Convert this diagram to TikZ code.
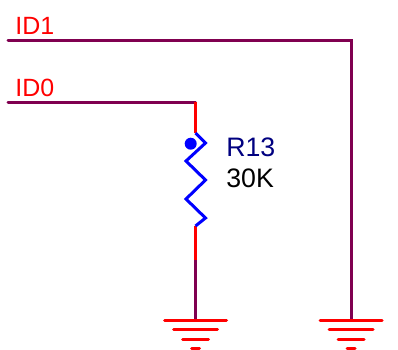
\documentclass[tikz,border=0pt]{standalone}
\usepackage{fontspec}
\setmainfont{Liberation Sans}
\usepackage{color}
\definecolor{wirepurple}{RGB}{128,0,80}
\definecolor{pinred}{RGB}{255,0,0}
\definecolor{bodyblue}{RGB}{0,0,255}
\definecolor{refnavy}{RGB}{0,0,128}
\newcommand{\ground}{\draw[pinwire] (-31,0) -- (31,0);
					\draw[pinwire] (-22,9) -- (22,9);
					\draw[pinwire] (-13,19) -- (13,19);
					\draw[pinwire] (-4,28) -- (4,28);}
\tikzset{
	netwire/.style = {draw = wirepurple, line width = 0.06cm, line cap = round, line join = miter},
	pinwire/.style = {draw = pinred, line width = 0.06cm, line cap = round},
	labeltext/.style = {anchor = base west, inner sep = 0pt, font = \fontsize{14.2pt}{16pt}\selectfont},
	parttext/.style = {labeltext, font = \fontsize{15.2pt}{17pt}\selectfont}
}

\begin{document}
\begin{tikzpicture}[x = 0.02cm, y = -0.02cm]

					\useasboundingbox (0,0) rectangle (398,349);

					\coordinate (id1start) at (8,40);
					\coordinate (id1corner) at (351,40);
					\coordinate (gndright) at (351,320);
					\coordinate (id0start) at (8,102);
					\coordinate (id0corner) at (195.5,102);
					\coordinate (r13top) at (195.5,133);
					\coordinate (r13bottom) at (195.5,226);
					\coordinate (pinend) at (195.5,260);
					\coordinate (gndleft) at (195.5,320);

					\draw[netwire] (id1start) -- (id1corner) -- (gndright);
					\draw[netwire] (id0start) -- (id0corner);
					\draw[netwire] (pinend) -- (gndleft);

					\draw[pinwire, line cap = butt] (id0corner) -- (r13top);
					\draw[pinwire, line cap = butt] (r13bottom) -- (pinend);

					\draw[draw = bodyblue, line width = 0.06cm] (r13top) -- ++(10,10) -- ++(-19.5,18) -- ++(19.5,19)
						-- ++(-19.5,19) -- ++(19.5,19) -- (r13bottom);
					\fill[bodyblue] (190.7,143.7) circle (6);

					\begin{scope}[shift = {(gndleft)}]
						\ground
					\end{scope}

					\begin{scope}[shift = {(gndright)}]
						\ground
					\end{scope}

					\node[labeltext, text = pinred] (id1label) at (15,34) {ID1};
					\node[labeltext, text = pinred] (id0label) at (15,96) {ID0};
					\node[parttext, text = refnavy] (r13label) at (226,156) {R13};
					\node[parttext, text = black] (r13value) at (226,187) {30K};

\end{tikzpicture}
\end{document}
